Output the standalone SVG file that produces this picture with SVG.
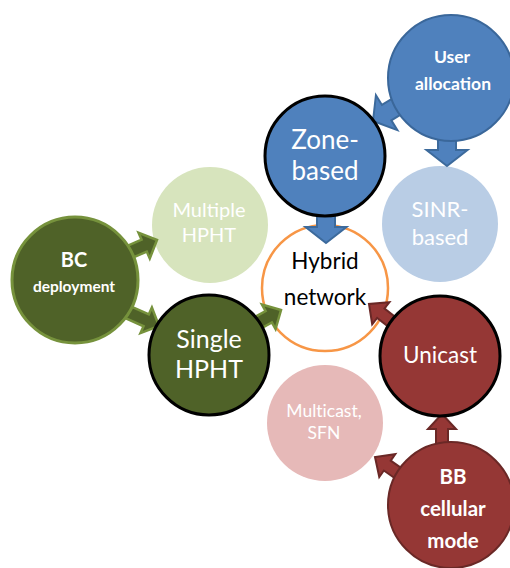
<svg xmlns="http://www.w3.org/2000/svg" width="510" height="568" viewBox="0 0 510 568">
<defs>
<style>
text{font-family:Lato,"Liberation Sans",sans-serif;text-anchor:middle;fill:#fff}
.b{font-weight:bold}
.dk{fill:#000}
.blueA{fill:#4F81BD;stroke:#3C6A9C;stroke-width:2;stroke-linejoin:miter}
.greenA{fill:#4F6228;stroke:#76923C;stroke-width:2.5;stroke-linejoin:miter}
.redA{fill:#953735;stroke:#6A2826;stroke-width:2;stroke-linejoin:miter}
</style>
<path id="aBlue" d="M0,0 L-16,-20.5 L-16,-9 L-46,-9 L-46,9 L-16,9 L-16,20.5 Z"/>
<path id="aGreen" d="M0,0 L-14,-14 L-14,-6.5 L-40,-6.5 L-40,6.5 L-14,6.5 L-14,14 Z"/>
<path id="aRed" d="M0,0 L-15,-14 L-15,-6 L-40,-6 L-40,6 L-15,6 L-15,14 Z"/>
</defs>
<rect width="510" height="568" fill="#fff"/>

<g id="node-sinr">
<circle cx="440" cy="224" r="58" fill="#B9CDE5"/>
<text x="440" y="217" font-size="22">SINR-</text>
<text x="440" y="245" font-size="22">based</text>
</g>
<g id="node-multiple">
<circle cx="210" cy="225" r="58" fill="#D7E4BD"/>
<text x="209" y="217" font-size="20">Multiple</text>
<text x="209" y="242" font-size="20">HPHT</text>
</g>
<g id="node-multicast">
<circle cx="325" cy="423" r="58" fill="#E6B9B8"/>
<text x="324" y="417" font-size="17.5" style="font-variant-ligatures:none">Multicast,</text>
<text x="324" y="439" font-size="17.5">SFN</text>
</g>
<g id="node-hybrid">
<circle cx="325" cy="288" r="63" fill="#fff" stroke="#F79646" stroke-width="2.5"/>
<text class="dk" x="325" y="269" font-size="22.5">Hybrid</text>
<text class="dk" x="325" y="305" font-size="22.5">network</text>
</g>

<g id="connectors">
<use href="#aBlue" class="blueA" transform="translate(373,121) rotate(148.5)"/>
<use href="#aBlue" class="blueA" transform="translate(447,166) rotate(90)"/>
<use href="#aBlue" class="blueA" transform="translate(326,243) rotate(90)"/>
<use href="#aGreen" class="greenA" transform="translate(157,240) rotate(-23.6)"/>
<use href="#aGreen" class="greenA" transform="translate(159,326) rotate(24)"/>
<use href="#aGreen" class="greenA" transform="translate(281,310) rotate(-29)"/>
<use href="#aRed" class="redA" transform="translate(369,304) rotate(-142)"/>
<use href="#aRed" class="redA" transform="translate(442,414) rotate(-90)"/>
<use href="#aRed" class="redA" transform="translate(375,457) rotate(-145)"/>
</g>

<g id="node-user">
<circle cx="451" cy="78" r="63" fill="#4F81BD" stroke="#3A679A" stroke-width="2"/>
<text class="b" x="452" y="63" font-size="17.5">User</text>
<text class="b" x="453" y="90" font-size="17.5">allocation</text>
</g>
<g id="node-zone">
<circle cx="325" cy="156" r="60" fill="#4F81BD" stroke="#000" stroke-width="3"/>
<text x="325" y="149" font-size="26">Zone-</text>
<text x="325" y="180" font-size="26">based</text>
</g>
<g id="node-bc">
<circle cx="75" cy="280" r="63" fill="#4F6228" stroke="#76923C" stroke-width="3"/>
<text class="b" x="74" y="267" font-size="20">BC</text>
<text class="b" x="74" y="292" font-size="15.5">deployment</text>
</g>
<g id="node-single">
<circle cx="209" cy="355" r="60" fill="#4F6228" stroke="#000" stroke-width="3"/>
<text x="209" y="348" font-size="25">Single</text>
<text x="209" y="378" font-size="25">HPHT</text>
</g>
<g id="node-unicast">
<circle cx="440" cy="356" r="60" fill="#953735" stroke="#000" stroke-width="3"/>
<text x="440" y="363" font-size="22.5">Unicast</text>
</g>
<g id="node-bb">
<circle cx="451" cy="505" r="63" fill="#953735" stroke="#6A2826" stroke-width="2"/>
<text class="b" x="453" y="484" font-size="20.5">BB</text>
<text class="b" x="453" y="516" font-size="20.5">cellular</text>
<text class="b" x="453" y="548" font-size="20.5">mode</text>
</g>
</svg>
